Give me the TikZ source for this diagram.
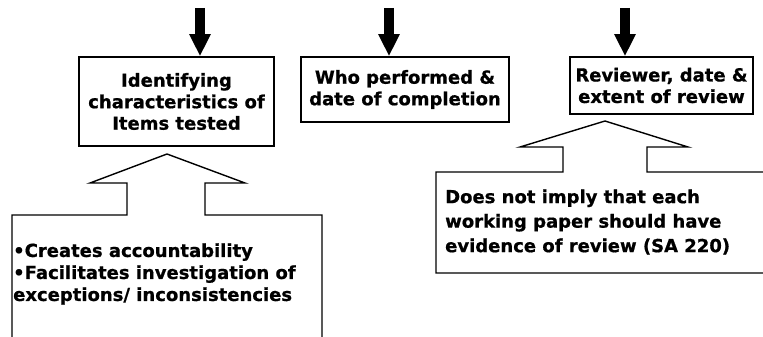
\documentclass[tikz,border=0pt]{standalone}
\usepackage{fontspec}
\setmainfont{DejaVu Sans}[BoldFeatures={FakeBold=0.8}]
\usepackage{tikz}
\usetikzlibrary{arrows.meta, positioning, calc}
\definecolor{InkBlack}{HTML}{000000}
\newcommand{\boxfont}{\bfseries\fontsize{18}{21.5}\selectfont}
\tikzset{
  infobox/.style={draw=InkBlack, line width=1.6pt, align=center, inner sep=2pt,
                  text=InkBlack, font=\boxfont},
  downarrow/.style={draw=InkBlack, line width=10pt,
                    -{Triangle[width=20pt, length=22pt]}},
  callout/.style={draw=InkBlack, line width=1.4pt, line join=miter},
  notetext/.style={align=left, inner sep=0pt, anchor=west, text=InkBlack}
}
\begin{document}
\begin{tikzpicture}[x=1pt, y=-1pt]
\useasboundingbox (0,0) rectangle (763,337);
\clip (0,0) rectangle (763,337);

% the three record boxes
\node[infobox, minimum width=195pt, minimum height=89pt] (ident) at (176.5,101.5)
    {Identifying\\characteristics of\\Items tested};
\node[infobox, minimum width=208pt, minimum height=65pt] (who) at (405,89.5)
    {Who performed \&\\date of completion};
\node[infobox, minimum width=183pt, minimum height=57pt] (review) at (661.5,85.5)
    {Reviewer, date \&\\extent of review};

% arrows coming in from above
\coordinate (topA) at (200,8);
\coordinate (topB) at (389,8);
\coordinate (topC) at (625,8);
\draw[downarrow] (topA) -- (ident.north -| topA);
\draw[downarrow] (topB) -- (who.north -| topB);
\draw[downarrow] (topC) -- (review.north -| topC);

% callout under the first box
\draw[callout] (12,345) -- (12,215) -- (127,215) -- (127,183) -- (90,183)
    -- (167,154) -- (245,183) -- (205,183) -- (205,215) -- (322,215) -- (322,345);
\node[notetext, font=\bfseries\fontsize{18}{22}\selectfont] (whynote) at (13,274)
    {•Creates accountability\\•Facilitates investigation of\\exceptions/ inconsistencies};

% callout under the review box
\draw[callout] (775,273) -- (436,273) -- (436,172) -- (563,172) -- (563,147)
    -- (520,147) -- (605,121) -- (688,147) -- (647,147) -- (647,172) -- (775,172);
\node[notetext, font=\bfseries\fontsize{18}{24.5}\selectfont] (sanote) at (445,222)
    {Does not imply that each\\working paper should have\\evidence of review (SA 220)};
\end{tikzpicture}
\end{document}
